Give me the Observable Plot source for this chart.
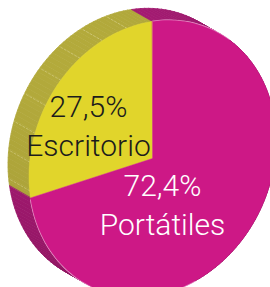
<!DOCTYPE html>
<html><head><meta charset="utf-8">
<script src="https://cdn.jsdelivr.net/npm/d3@7"></script>
<script src="https://cdn.jsdelivr.net/npm/@observablehq/plot@0.6"></script>
<style>body{margin:0;background:#fff;overflow:hidden}</style>
</head><body><div id="chart"></div>
<script>
// data
const categories = ["Escritorio", "Portátiles"];
const values = [27.5, 72.4];
const labels = ["27,5%", "72,4%"];

// styles / layout
const faceColors = ["#e1d52b", "#cd1886"];
const sideColors = [["#b3aa3b", "#9a9236"], ["#a61c74", "#861059"]];
const textColors = ["#1c1c1c", "#ffffff"];
const labelPos = [[88, 155], [162, 234]];
const W = 270, H = 287;
const cx = 152, cy = 158, A = 123.5, C = -18, D = 137; // face affine
const off = [-21, -12]; // extrusion offset

const total = d3.sum(values);
const P = (t) => { // t: angle radians from top, CCW on screen
  const u = -Math.sin(t), v = -Math.cos(t);
  return [cx + A * u, cy + C * u + D * v];
};
const slices = [];
let acc = 0;
values.forEach((v, i) => {
  const a0 = acc / total * 2 * Math.PI;
  acc += v;
  const a1 = acc / total * 2 * Math.PI;
  slices.push({i, a0, a1});
});

const sidePts = [], facePts = [], seps = [];
let qid = 0;
slices.forEach(s => {
  const n = Math.max(2, Math.ceil((s.a1 - s.a0) / (Math.PI / 90)));
  for (let k = 0; k < n; k++) {
    const t0 = s.a0 + (s.a1 - s.a0) * k / n, t1 = s.a0 + (s.a1 - s.a0) * (k + 1) / n;
    const p0 = P(t0), p1 = P(t1);
    const f = (Math.cos(t0 - 0.6) + 1) / 2; // shade
    const col = d3.interpolateRgb(sideColors[s.i][1], sideColors[s.i][0])(f);
    const q = qid++;
    [[p0[0], p0[1]], [p1[0], p1[1]], [p1[0] + off[0], p1[1] + off[1]], [p0[0] + off[0], p0[1] + off[1]]]
      .forEach(p => sidePts.push({x: p[0], y: p[1], q, col}));
  }
  if (s.i === 0) {
    for (let deg = 12; deg < (s.a1 - s.a0) * 180 / Math.PI; deg += 12) {
      const p = P(s.a0 + deg * Math.PI / 180);
      seps.push({x: p[0], y: p[1], g: deg}, {x: p[0] + off[0], y: p[1] + off[1], g: deg});
    }
  }
  facePts.push({x: cx, y: cy, s: s.i});
  for (let k = 0; k <= n; k++) {
    const p = P(s.a0 + (s.a1 - s.a0) * k / n);
    facePts.push({x: p[0], y: p[1], s: s.i});
  }
});
// light rim on the visible magenta side edge
const rim = [];
for (let deg = -38; deg <= 0; deg += 2) { const p = P(deg * Math.PI / 180); rim.push({x: p[0], y: p[1], g: 0}); }
for (let deg = 100; deg <= 200; deg += 2) { const p = P(deg * Math.PI / 180); rim.push({x: p[0], y: p[1], g: 1}); }

const chart = Plot.plot({
  width: W, height: H, margin: 0,
  x: {domain: [0, W], range: [0, W], axis: null},
  y: {domain: [0, H], range: [0, H], axis: null},
  color: {type: "identity"},
  style: {background: "#fff"},
  marks: [
    Plot.line(sidePts, {x: "x", y: "y", z: "q", fill: "col", stroke: "col", strokeWidth: 0.8, curve: "linear-closed"}),
    Plot.line(seps, {x: "x", y: "y", z: "g", stroke: "#f0ecc0", strokeOpacity: 0.6, strokeWidth: 0.6, strokeDasharray: "2,2"}),
    Plot.line(rim, {x: "x", y: "y", z: "g", stroke: "#f2b8dc", strokeWidth: 1.6}),
    Plot.line(facePts, {x: "x", y: "y", z: "s", fill: d => faceColors[d.s], stroke: d => faceColors[d.s], strokeWidth: 0.5, curve: "linear-closed"}),
    Plot.text(categories.map((c, i) => ({i, t: labels[i] + "\n" + c})), {
      x: d => labelPos[d.i][0], y: d => labelPos[d.i][1], text: "t", fill: d => textColors[d.i],
      fontSize: 30, fontFamily: "Roboto", fontWeight: 300, textAnchor: "middle", lineAnchor: "bottom", lineHeight: 1.3
    })
  ]
});
document.getElementById("chart").appendChild(chart);
</script></body></html>
